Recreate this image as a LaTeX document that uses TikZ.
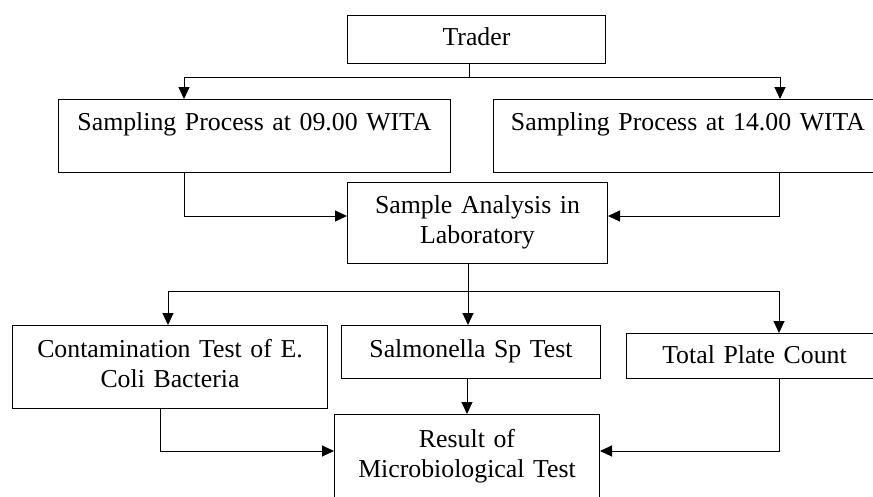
\documentclass[tikz,border=0pt]{standalone}
\usepackage{fontspec}
\setmainfont{Liberation Serif}
\usetikzlibrary{arrows.meta}
\begin{document}
\begin{tikzpicture}[x=1pt,y=-1pt,
  box/.style={draw, line width=1pt, anchor=north west, inner sep=0pt, align=center,
    font=\fontsize{25.8}{30}\selectfont},
  conn/.style={line width=1pt},
  arr/.style={conn, -{Triangle[length=12pt,width=11pt]}}]
\useasboundingbox (0,0) rectangle (873,496);
\begin{scope}
\clip (0,0) rectangle (873,496);
% boxes
\node[box, text width=258pt, text height=30pt, text depth=18pt] (trader) at (347,15) {Trader};
\node[box, text width=392pt, text height=31pt, text depth=42pt] (s1) at (58,99) {Sampling Process at 09.00 WITA};
\node[box, text width=389pt, text height=31pt, text depth=42pt] (s2) at (493,99) {Sampling Process at 14.00 WITA};
\node[box, text width=260pt, text height=31pt, text depth=50pt] (analysis) at (347,182) {Sample Analysis in\\Laboratory};
\node[box, text width=315pt, text height=32pt, text depth=51pt] (contam) at (12,325) {Contamination Test of E.\\Coli Bacteria};
\node[box, text width=259pt, text height=32pt, text depth=21pt] (salm) at (341,325) {Salmonella Sp Test};
\node[box, text width=256pt, text height=30pt, text depth=15pt] (tpc) at (626,333) {Total Plate Count};
\node[box, text width=265pt, text height=33pt, text depth=67pt] (result) at (334,414) {Result of\\Microbiological Test};
% junction coordinates
\coordinate (b1) at (469,77);
\coordinate (cL1) at (184,77);
\coordinate (cR1) at (780,77);
\coordinate (cL2) at (184,216);
\coordinate (cR2) at (779,216);
\coordinate (b2) at (468,291);
\coordinate (cL3) at (168,291);
\coordinate (cR3) at (779,291);
\coordinate (b3) at (467,0);
\coordinate (cL4) at (160,451);
\coordinate (cR4) at (779,451);
% connectors
\draw[conn] (trader.south -| b1) -- (b1);
\draw[arr] (b1) -- (cL1) -- (cL1 |- s1.north);
\draw[arr] (b1) -- (cR1) -- (cR1 |- s2.north);
\draw[arr] (cL2 |- s1.south) -- (cL2) -- (cL2 -| analysis.west);
\draw[arr] (cR2 |- s2.south) -- (cR2) -- (cR2 -| analysis.east);
\draw[arr] (b2 |- analysis.south) -- (b2 |- salm.north);
\draw[arr] (b2) -- (cL3) -- (cL3 |- contam.north);
\draw[arr] (b2) -- (cR3) -- (cR3 |- tpc.north);
\draw[arr] (b3 |- salm.south) -- (b3 |- result.north);
\draw[arr] (cL4 |- contam.south) -- (cL4) -- (cL4 -| result.west);
\draw[arr] (cR4 |- tpc.south) -- (cR4) -- (cR4 -| result.east);
\end{scope}
\end{tikzpicture}
\end{document}
